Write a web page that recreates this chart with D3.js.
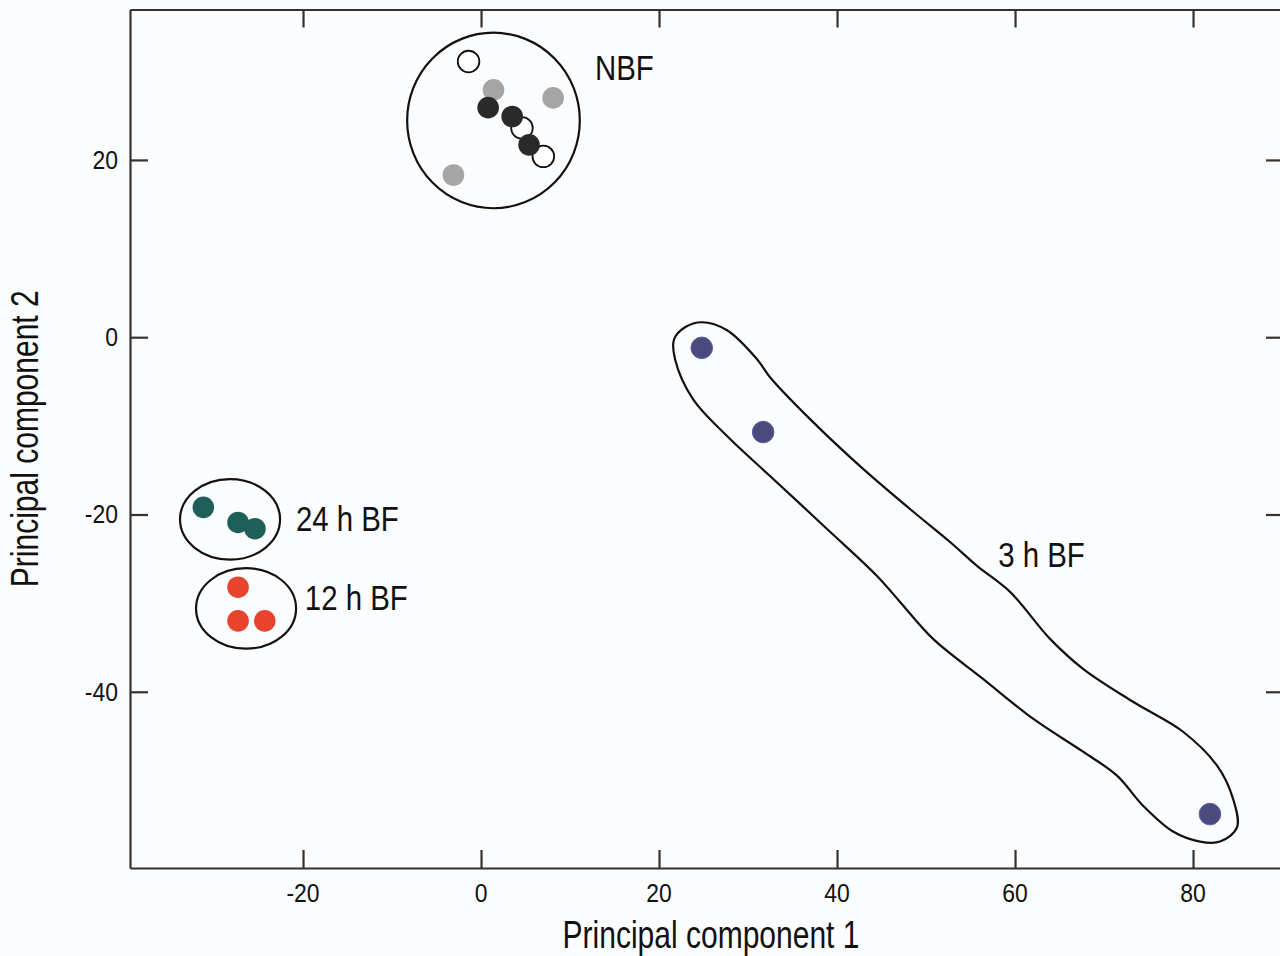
<!DOCTYPE html>
<html>
<head>
<meta charset="utf-8">
<script src="https://cdn.jsdelivr.net/npm/d3@7"></script>
<style>
  html, body { margin: 0; padding: 0; background: #fbfcfe; }
  svg { display: block; font-family: "Liberation Sans", Arial, Helvetica, sans-serif; }
  .axis path, .axis line { stroke: #333; stroke-width: 2.2; }
  .axis text { fill: #111; }
</style>
</head>
<body>
<div id="chart"></div>
<script>
// tick values
var xTicks = [-20, 0, 20, 40, 60, 80];
var yTicks = [-40, -20, 0, 20];

// PCA scores [PC1, PC2]
var nbfOpen  = [[-1.4, 31.1], [4.6, 23.6], [7.0, 20.4]];
var nbfGray  = [[1.4, 27.9], [8.1, 27.0], [-3.1, 18.3]];
var nbfBlack = [[0.8, 25.9], [3.5, 24.9], [5.4, 21.7]];
var bf24 = [[-31.2, -19.2], [-27.3, -20.9], [-25.4, -21.6]];
var bf12 = [[-27.3, -28.2], [-27.3, -32.0], [-24.3, -32.0]];
var bf3  = [[24.8, -1.2], [31.7, -10.7], [81.9, -53.8]];

// group outlines (data units)
var groupEllipses = [
  { name: "NBF", cx: 1.4, cy: 24.45, rx: 9.7, ry: 9.9 },
  { name: "24 h BF", cx: -28.2, cy: -20.55, rx: 5.62, ry: 4.54 },
  { name: "12 h BF", cx: -26.4, cy: -30.6, rx: 5.62, ry: 4.54 }
];
var bf3Outline = [
  [24.83, 1.69], [27.64, 0.79], [31.01, -2.48], [32.47, -4.51], [36.97, -9.24],
  [42.58, -14.54], [48.2, -19.38], [52.7, -23.1], [55.73, -25.8], [59.44, -28.73],
  [63.93, -34.03], [67.64, -37.41], [73.26, -41.13], [78.88, -44.51], [82.7, -48.34],
  [84.49, -52.06], [84.94, -55.3], [83.03, -56.9], [80.79, -56.9], [77.75, -55.77],
  [74.38, -52.85], [71.46, -49.46], [67.64, -46.76], [62.02, -43.04], [56.4, -38.54],
  [50.79, -34.03], [47.08, -29.86], [44.49, -26.93], [38.88, -21.63], [32.47, -15.66],
  [27.64, -11.15], [23.82, -6.99], [21.8, -2.48], [21.69, -0.23], [22.92, 1.13]
];

// group labels: text, left x, baseline y (data units)
var groupLabels = [
  ["NBF", 12.8, 29.0],
  ["24 h BF", -20.8, -21.9],
  ["12 h BF", -19.8, -30.75],
  ["3 h BF", 58.1, -25.9]
];

var svgWidth = 1280;
var svgHeight = 956;
var margin = { top: 9.5, right: -4, bottom: 88, left: 130 };
var width = svgWidth - margin.left - margin.right;
var height = svgHeight - margin.top - margin.bottom;

var svg = d3.select("#chart")
  .append("svg")
  .attr("width", svgWidth)
  .attr("height", svgHeight);

var chartGroup = svg.append("g")
  .attr("transform", `translate(${margin.left}, ${margin.top})`);

var xScale = d3.scaleLinear().domain([-39.44, 90.22]).range([0, width]);
var yScale = d3.scaleLinear().domain([-59.88, 36.97]).range([height, 0]);

// helper for the condensed-looking text of the original
function addText(g, x, y, txt, size, sx, anchor) {
  return g.append("text")
    .attr("transform", `translate(${x},${y}) scale(${sx},1)`)
    .attr("font-size", size)
    .attr("text-anchor", anchor)
    .attr("fill", "#111")
    .text(txt);
}

// axes, ticks pointing inward on all four sides
var bottomAxis = chartGroup.append("g")
  .attr("class", "axis")
  .attr("transform", `translate(0, ${height})`)
  .call(d3.axisBottom(xScale).tickValues(xTicks).tickSizeInner(-18).tickSizeOuter(0).tickFormat(""));
var topAxis = chartGroup.append("g")
  .attr("class", "axis")
  .call(d3.axisTop(xScale).tickValues(xTicks).tickSizeInner(-18).tickSizeOuter(0).tickFormat(""));
var leftAxis = chartGroup.append("g")
  .attr("class", "axis")
  .call(d3.axisLeft(yScale).tickValues(yTicks).tickSizeInner(-18).tickSizeOuter(0).tickFormat(""));
var rightAxis = chartGroup.append("g")
  .attr("class", "axis")
  .attr("transform", `translate(${width}, 0)`)
  .call(d3.axisRight(yScale).tickValues(yTicks).tickSizeInner(-18).tickSizeOuter(0).tickFormat(""));

// tick labels
xTicks.forEach(function(t) {
  addText(chartGroup, xScale(t), height + 33.5, t, 25.5, 0.9, "middle");
});
yTicks.forEach(function(t) {
  addText(chartGroup, -12, yScale(t) + 9, t, 25.5, 0.9, "end");
});

// axis titles
addText(chartGroup, width / 2 + 4, height + 80, "Principal component 1", 38, 0.79, "middle");
chartGroup.append("text")
  .attr("transform", `translate(${38 - margin.left}, ${height / 2}) rotate(-90) scale(0.79,1)`)
  .attr("font-size", 38)
  .attr("text-anchor", "middle")
  .attr("fill", "#111")
  .text("Principal component 2");

// group outlines
chartGroup.selectAll(".grp")
  .data(groupEllipses)
  .enter()
  .append("ellipse")
  .attr("class", "grp")
  .attr("cx", d => xScale(d.cx))
  .attr("cy", d => yScale(d.cy))
  .attr("rx", d => xScale(d.cx + d.rx) - xScale(d.cx))
  .attr("ry", d => yScale(d.cy - d.ry) - yScale(d.cy))
  .attr("fill", "none")
  .attr("stroke", "#111")
  .attr("stroke-width", 2.2);

var outline = d3.line()
  .x(d => xScale(d[0]))
  .y(d => yScale(d[1]))
  .curve(d3.curveCatmullRomClosed.alpha(0.5));

chartGroup.append("path")
  .attr("d", outline(bf3Outline))
  .attr("fill", "none")
  .attr("stroke", "#111")
  .attr("stroke-width", 2.2);

// points
function drawPoints(data, fill, stroke, sw) {
  chartGroup.append("g")
    .selectAll("circle")
    .data(data)
    .enter()
    .append("circle")
    .attr("cx", d => xScale(d[0]))
    .attr("cy", d => yScale(d[1]))
    .attr("r", 10.8)
    .attr("fill", fill)
    .attr("stroke", stroke)
    .attr("stroke-width", sw);
}

drawPoints(nbfGray, "#a5a5a5", "none", 0);
drawPoints(nbfOpen, "#ffffff", "#111", 1.8);
drawPoints(nbfBlack, "#2a2a2a", "none", 0);
drawPoints(bf24, "#1f5f59", "none", 0);
drawPoints(bf12, "#e8432d", "none", 0);
drawPoints(bf3, "#4a4a7e", "#5a64a0", 1);

// group labels
groupLabels.forEach(function(l) {
  addText(chartGroup, xScale(l[1]), yScale(l[2]), l[0], 35, 0.84, "start");
});
</script>
</body>
</html>
